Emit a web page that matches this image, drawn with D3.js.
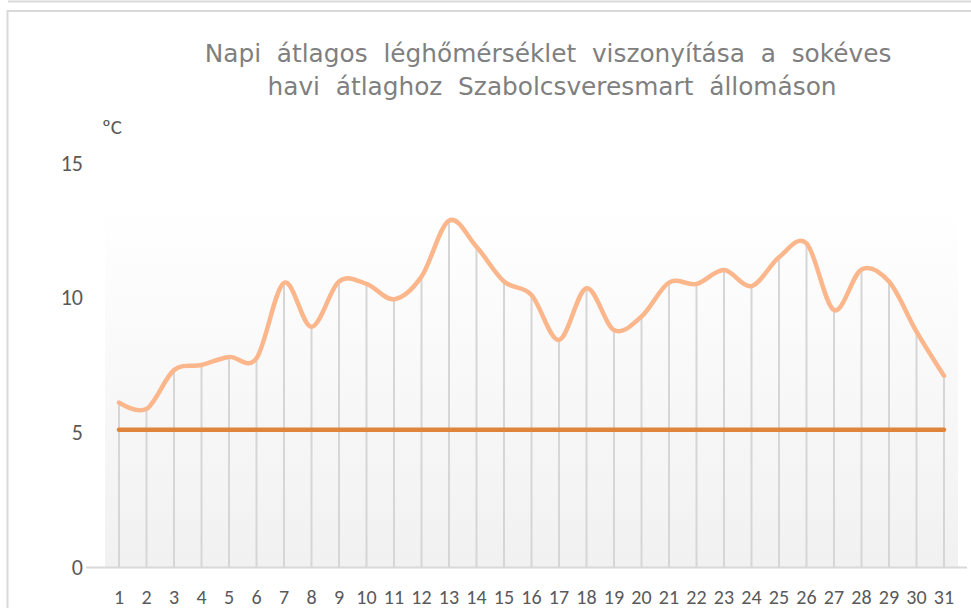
<!DOCTYPE html>
<html>
<head>
<meta charset="utf-8">
<script src="https://cdn.jsdelivr.net/npm/d3@7"></script>
<style>
    body { margin: 0; background: #fff; }
    #chart-container { width: 971px; height: 608px; }
    .tick-label { font-family: Carlito, Lato, sans-serif; fill: #595959; }
    .title { font-family: "DejaVu Sans", Verdana, sans-serif; fill: #7f7f7f; font-size: 24.8px; }
</style>
</head>
<body>
<div id="chart-container"></div>
<script>
const days = d3.range(1, 32);
const dailyTemps = [6.1, 5.87, 7.31, 7.5, 7.8, 7.75, 10.55, 8.92, 10.6, 10.51,
    9.94, 10.78, 12.86, 11.89, 10.6, 10.1, 8.43, 10.35, 8.8, 9.3,
    10.56, 10.51, 11.03, 10.43, 11.5, 12.02, 9.54, 11.05, 10.6, 8.74, 7.1];
const longTermMean = 5.1;
const yTicks = [0, 5, 10, 15];
const titleLines = ["Napi  átlagos  léghőmérséklet  viszonyítása  a  sokéves",
    "havi  átlaghoz  Szabolcsveresmart  állomáson"];
const unitLabel = "ºC";

const width = 971;
const height = 608;

const svg = d3.select("#chart-container")
    .append("svg")
    .attr("width", width)
    .attr("height", height);

// outer frames
svg.append("path")
    .attr("d", "M8,1.5 H971")
    .style("stroke", "#d9d9d9")
    .style("stroke-width", 2)
    .style("fill", "none");
svg.append("path")
    .attr("d", "M7.5,608 V11 H971")
    .style("stroke", "#d9d9d9")
    .style("stroke-width", 2)
    .style("fill", "none");

const xScale = d3.scalePoint()
    .domain(days)
    .range([119, 944]);

const yScale = d3.scaleLinear()
    .domain([0, 15])
    .range([567, 163]);

// plot area gradient
const grad = svg.append("defs")
    .append("linearGradient")
    .attr("id", "plotGrad")
    .attr("x1", 0).attr("y1", 0)
    .attr("x2", 0).attr("y2", 1);
grad.append("stop").attr("offset", "0%").attr("stop-color", "#ffffff");
grad.append("stop").attr("offset", "100%").attr("stop-color", "#f1f1f1");

svg.append("rect")
    .attr("x", 105)
    .attr("y", 208)
    .attr("width", 853)
    .attr("height", yScale(0) - 208)
    .style("fill", "url(#plotGrad)");

// title
const titleX = [548, 552];
const titleY = [62, 95];
titleLines.forEach((t, i) => {
    svg.append("text")
        .attr("class", "title")
        .attr("x", titleX[i])
        .attr("y", titleY[i])
        .attr("text-anchor", "middle")
        .style("white-space", "pre")
        .text(t);
});

// drop lines
svg.selectAll(".drop")
    .data(dailyTemps)
    .enter()
    .append("line")
    .attr("class", "drop")
    .attr("x1", (d, i) => xScale(days[i]))
    .attr("x2", (d, i) => xScale(days[i]))
    .attr("y1", d => yScale(d))
    .attr("y2", yScale(0))
    .style("stroke", "#d6d6d6")
    .style("stroke-width", 2);

// x axis line
svg.append("line")
    .attr("x1", 86)
    .attr("x2", 967)
    .attr("y1", yScale(0) + 0.5)
    .attr("y2", yScale(0) + 0.5)
    .style("stroke", "#d9d9d9")
    .style("stroke-width", 2);

// long-term mean line
svg.append("line")
    .attr("x1", xScale(1))
    .attr("x2", xScale(31))
    .attr("y1", yScale(longTermMean))
    .attr("y2", yScale(longTermMean))
    .style("stroke", "#df843b")
    .style("stroke-width", 4.5)
    .style("stroke-linecap", "round");

// daily mean line
const line = d3.line()
    .x((d, i) => xScale(days[i]))
    .y(d => yScale(d))
    .curve(d3.curveCardinal.tension(0));

svg.append("path")
    .datum(dailyTemps)
    .attr("d", line)
    .style("fill", "none")
    .style("stroke", "#fbb68c")
    .style("stroke-width", 4.5)
    .style("stroke-linecap", "round")
    .style("stroke-linejoin", "round");

// y tick labels
svg.selectAll(".ytick")
    .data(yTicks)
    .enter()
    .append("text")
    .attr("class", "tick-label")
    .attr("x", 83)
    .attr("y", d => yScale(d))
    .attr("dy", "0.35em")
    .attr("text-anchor", "end")
    .style("font-size", "22px")
    .text(d => d);

svg.append("text")
    .attr("class", "tick-label")
    .attr("x", 102)
    .attr("y", 134)
    .style("font-size", "21px")
    .text(unitLabel);

// x tick labels
svg.selectAll(".xtick")
    .data(days)
    .enter()
    .append("text")
    .attr("class", "tick-label")
    .attr("x", d => xScale(d))
    .attr("y", 604)
    .attr("text-anchor", "middle")
    .style("font-size", "20px")
    .text(d => d);
</script>
</body>
</html>
